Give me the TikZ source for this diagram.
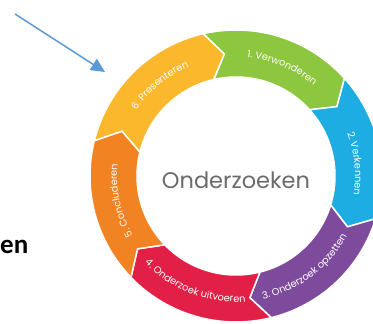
\documentclass[tikz,border=0pt]{standalone}
\usepackage{fontspec}
\newfontfamily\segfont{Poppins}
\newfontfamily\wordfont{Carlito}
\usetikzlibrary{arrows.meta,decorations.text}
\definecolor{cgreen}{HTML}{8DC63F}
\definecolor{cblue}{HTML}{1DADE2}
\definecolor{cpurple}{HTML}{7E4B9C}
\definecolor{cred}{HTML}{E21F46}
\definecolor{corange}{HTML}{F28322}
\definecolor{cyellow}{HTML}{FBB82C}
\definecolor{cgray}{HTML}{6B6B6B}
\definecolor{carrow}{HTML}{5B9BD5}
\tikzset{
  seg/.style={draw=white, line width=1.5pt},
  lbl/.style={decorate, decoration={text along path, text align=center, text color=white}},
  pointer/.style={carrow, line width=1.5pt, -{Triangle[length=14pt,width=13pt]}}
}
\begin{document}
\begin{tikzpicture}[x=1pt,y=1pt]
\useasboundingbox (0,0) rectangle (373,324);
\clip (0,0) rectangle (373,324);
\coordinate (ctr) at (236,148);
% ring of six arrows
\foreach \a/\b/\col in {103/42/cgreen,42/-17/cblue,-17/-76/cpurple,-76/-136/cred,-136/-194/corange,-194/-257/cyellow}
  \filldraw[seg,fill=\col,shift={(ctr)}] (\a:146) arc[start angle=\a,end angle=\b,radius=146]
    -- ({\b-7.5}:122.5) -- (\b:99) arc[start angle=\b,end angle=\a,radius=99]
    -- ({\a-7.5}:122.5) -- cycle;
% labels
\path[lbl,decoration={text={|\segfont\fontsize{9.8}{11}\selectfont|1. Verwonderen}},shift={(ctr)}] (111:119) arc[start angle=111,end angle=23,radius=119];
\path[lbl,decoration={text={|\segfont\fontsize{9.8}{11}\selectfont|2. Verkennen}},shift={(ctr)}] (50:119) arc[start angle=50,end angle=-38,radius=119];
\path[lbl,decoration={text={|\segfont\fontsize{9.8}{11}\selectfont|3. Onderzoek opzetten}},shift={(ctr)}] (-97:126) arc[start angle=-97,end angle=-9,radius=126];
\path[lbl,decoration={text={|\segfont\fontsize{9.8}{11}\selectfont|4. Onderzoek uitvoeren}},shift={(ctr)}] (-155:126) arc[start angle=-155,end angle=-67,radius=126];
\path[lbl,decoration={text={|\segfont\fontsize{9.8}{11}\selectfont|5. Concluderen}},shift={(ctr)}] (236:119) arc[start angle=236,end angle=148,radius=119];
\path[lbl,decoration={text={|\segfont\fontsize{9.8}{11}\selectfont|6. Presenteren}},shift={(ctr)}] (174:119) arc[start angle=174,end angle=86,radius=119];
% centre and left text
\node[font=\segfont\fontsize{22.5}{26}\selectfont, text=cgray] (title) at (236,144) {Onderzoeken};
\node[font=\wordfont\bfseries\fontsize{27}{30}\selectfont, anchor=base west, inner sep=0pt] (word) at (0,70) {en};
% pointer
\coordinate (tail) at (15,310);
\coordinate (tip) at (105,252);
\draw[pointer] (tail) -- (tip);
\end{tikzpicture}
\end{document}
